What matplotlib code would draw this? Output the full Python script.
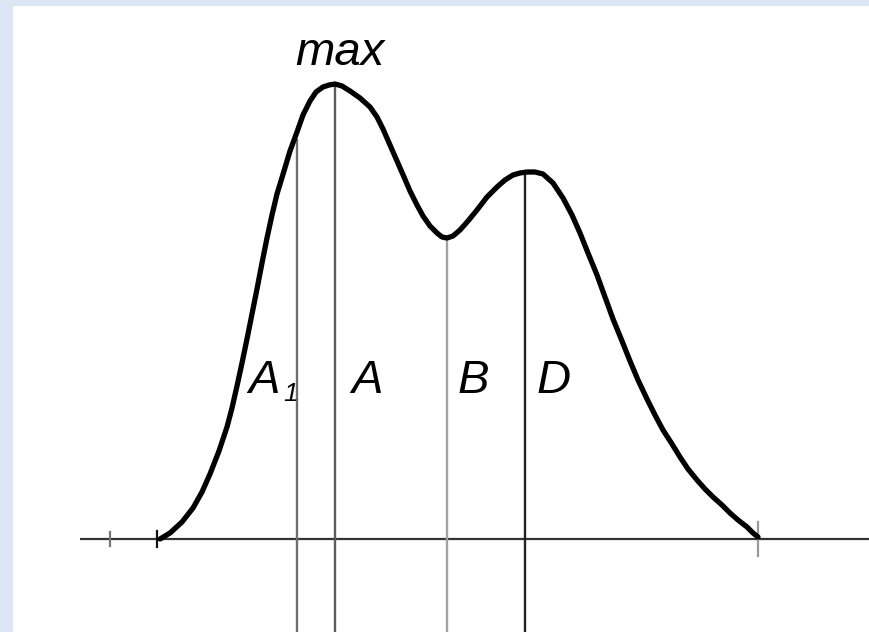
#!/usr/bin/env python3
# -*- coding: utf-8 -*-

import matplotlib
matplotlib.use('Agg')
import matplotlib.pyplot as plt

# curve: abscissa and height above the base line
curve_x = [160, 170, 182, 193, 202, 210, 219, 227, 232, 237, 242, 247, 252,
           257, 262, 267, 272, 277, 284, 290, 297, 303, 310, 316, 323, 329,
           335, 342, 350, 360, 370, 377, 383, 390, 397, 404, 410, 417, 423,
           430, 437, 442, 447, 453, 460, 468, 477, 487, 497, 505, 513, 520,
           527, 535, 543, 553, 563, 572, 580, 588, 597, 605, 613, 622, 630,
           638, 647, 655, 663, 672, 680, 688, 697, 705, 713, 722, 730, 738,
           747, 753, 758]
curve_y = [0, 6, 17, 31, 47, 65, 88, 112, 131, 153, 176, 200, 225,
           250, 276, 301, 324, 345, 368, 388, 407, 424, 438, 447, 452, 454,
           455, 453, 448, 441, 432, 422, 410, 394, 378, 362, 348, 334, 323,
           313, 306, 302, 301, 303, 309, 318, 329, 342, 352, 359, 364, 366,
           367, 367, 365, 356, 341, 324, 306, 286, 264, 242, 220, 198, 178,
           159, 140, 124, 109, 95, 82, 70, 59, 50, 42, 34, 26, 19,
           12, 6, 2]

# marked positions on the axis
marker_names = ['A1', 'A', 'B', 'D']
marker_x = [297, 335, 447, 525]
marker_top = [400, 455, 301, 367]

tick_x = [110, 157, 758]

fig = plt.figure(figsize=(8.7, 6.32), dpi=100, facecolor='#dbe7f5')
ax = fig.add_axes([13 / 870, 0, 857 / 870, 626 / 632])
ax.set_facecolor('white')
ax.set_xlim(13, 870)
ax.set_ylim(-93, 533)
for s in ax.spines.values():
    s.set_visible(False)
ax.set_xticks([])
ax.set_yticks([])

# base line and ticks
ax.plot([80, 870], [0, 0], color='#333333', lw=1.6, solid_capstyle='butt')
tick_colors = ['#777777', '#111111', '#999999']
tick_half = [7, 8, 17]
for x, c, h in zip(tick_x, tick_colors, tick_half):
    ax.plot([x, x], [-h, h], color=c, lw=1.6)

# vertical markers
line_colors = ['#6e6e6e', '#5c5c5c', '#a2a2a2', '#222222']
for x, top, c in zip(marker_x, marker_top, line_colors):
    ax.plot([x, x], [-93, top], color=c, lw=1.7, solid_capstyle='butt')

ax.plot(curve_x, curve_y, color='black', lw=3.8,
        solid_joinstyle='round', solid_capstyle='round')

font = dict(family='Liberation Sans', style='italic', color='black')
label_pos = [(264, 146), (367, 146), (473, 146), (554, 146)]
for name, (x, y) in zip(marker_names, label_pos):
    ax.text(x, y, name[0], fontsize=34, ha='center', va='baseline', **font)
    if len(name) > 1:
        ax.text(291, 138, name[1:], fontsize=19, ha='center', va='baseline',
                **font)

ax.text(340, 474, 'max', fontsize=34, ha='center', va='baseline', **font)

fig.savefig('out.png', dpi=100, facecolor=fig.get_facecolor())
